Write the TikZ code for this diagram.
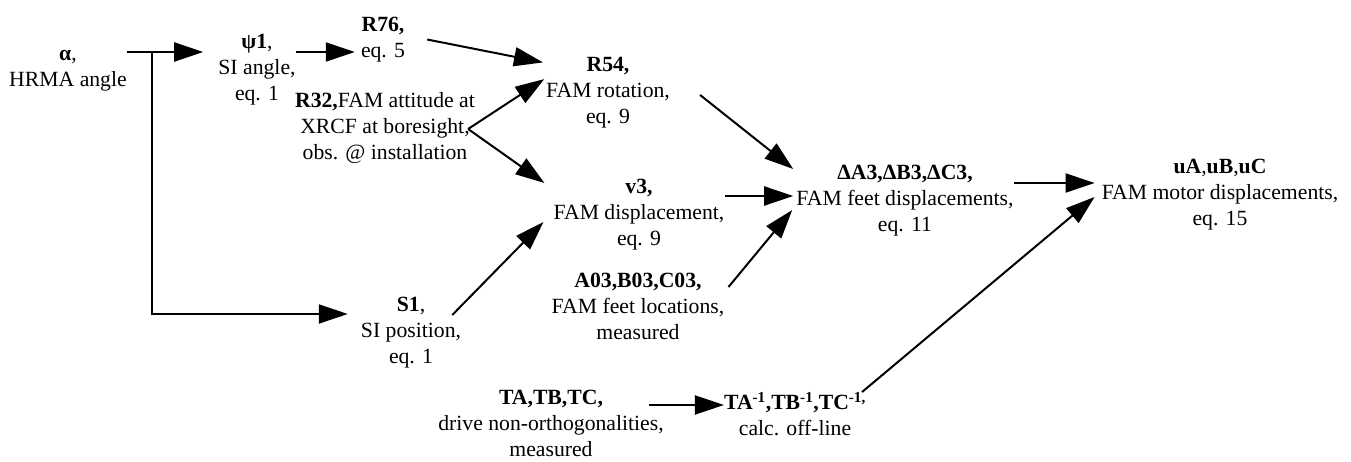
\documentclass[tikz,border=0pt]{standalone}
\usepackage{fontspec}
\setmainfont{Liberation Serif}
\usepackage{tikz}
\usetikzlibrary{arrows.meta}

\begin{document}
\begin{tikzpicture}[
  x=1pt, y=1pt,
  quantity/.style={align=center, inner sep=0pt, font=\fontsize{21.7pt}{26pt}\selectfont},
  wire/.style={line width=2pt},
  flow/.style={line width=2pt, -{Triangle[length=29pt,width=19pt]}}
]
\useasboundingbox (0,0) rectangle (1351,-462);
\node[quantity] (alpha) at (68,-70.5) {\textbf{α},\\HRMA angle};
\node[quantity] (psi) at (257,-70) {\textbf{ψ1},\\SI angle,\\eq. 1};
\node[quantity] (r76) at (383,-39.5) {\textbf{R76,}\\eq. 5};
\node[quantity] (r32) at (385,-128) {\textbf{R32,}FAM attitude at\\XRCF at boresight,\\obs. @ installation};
\node[quantity] (r54) at (608,-93) {\textbf{R54,}\\FAM rotation,\\eq. 9};
\node[quantity] (v3) at (639,-215) {\textbf{v3,}\\FAM displacement,\\eq. 9};
\node[quantity] (s1) at (411,-333) {\textbf{S1},\\SI position,\\eq. 1};
\node[quantity] (feet) at (638,-306) {\textbf{A03,B03,C03,}\\FAM feet locations,\\measured};
\node[quantity] (dfeet) at (905,-201) {\textbf{ΔA3,ΔB3,ΔC3,}\\FAM feet displacements,\\eq. 11};
\node[quantity] (motor) at (1220,-195) {\textbf{uA},\textbf{uB},\textbf{uC}\\FAM motor displacements,\\eq. 15};
\node[quantity] (drive) at (551,-423) {\textbf{TA,TB,TC,}\\drive non-orthogonalities,\\measured};
\node[quantity] (inv) at (795,-414) {\textbf{TA\textsuperscript{-1},TB\textsuperscript{-1},TC\textsuperscript{-1,}}\\calc. off-line};
\coordinate (split) at (152,-52);
\draw[wire] (alpha.east |- split) -- (split);
\draw[flow, shorten >=15pt] (split) -- (psi.west |- split);
\draw[flow, shorten >=13pt] (split) |- ([yshift=19pt]s1.west);
\draw[flow, shorten >=6pt] (psi.east |- split) -- (r76.west |- split);
\draw[flow, shorten >=3pt] ([xshift=22pt]r76.east) -- ([yshift=30pt]r54.west);
\draw[flow, shorten >=2pt] ([shift={(-7,-1)}]r32.east) -- ([yshift=15pt]r54.west);
\draw[flow] ([shift={(-7,-1)}]r32.east) -- ([shift={(-9,32)}]v3.west);
\draw[flow] ([shift={(30,-2)}]r54.east) -- ([shift={(-3,32)}]dfeet.west);
\draw[flow, shorten >=3pt] ([yshift=19pt]v3.east) -- ([yshift=5pt]dfeet.west);
\draw[flow] ([shift={(-9,18)}]s1.east) -- ([shift={(-10,-7)}]v3.west);
\draw[flow] ([shift={(4,19)}]feet.east) -- ([shift={(-4,-9)}]dfeet.west);
\draw[flow, shorten >=7pt] ([yshift=18pt]dfeet.east) -- ([yshift=12pt]motor.west);
\draw[flow] ([shift={(-4,22)}]inv.east) -- ([shift={(-7,-2)}]motor.west);
\draw[flow] ([shift={(-15,18)}]drive.east) -- ([yshift=9pt]inv.west);
\end{tikzpicture}
\end{document}
